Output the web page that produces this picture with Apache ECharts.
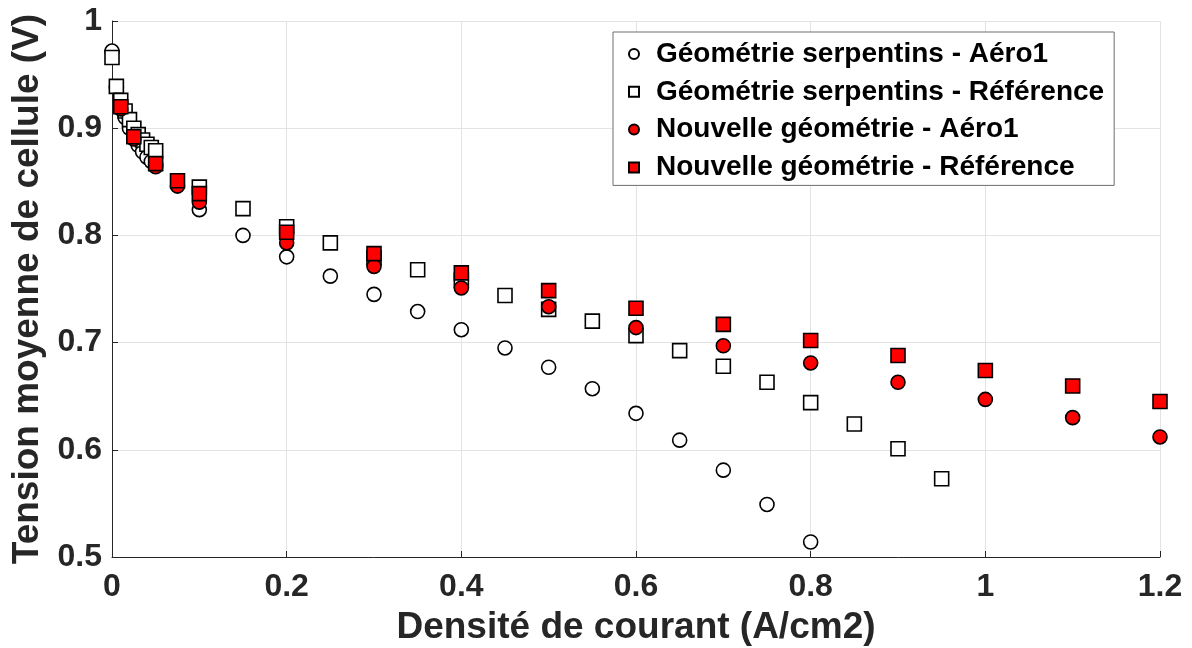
<!DOCTYPE html>
<html>
<head>
<meta charset="utf-8">
<script src="https://cdn.jsdelivr.net/npm/echarts@6/dist/echarts.min.js"></script>
<style>html,body{margin:0;padding:0;background:#fff}#c{width:1192px;height:648px}</style>
</head>
<body>
<div id="c"></div>
<script>
// Géométrie serpentins
const serpX = [0, 0.005, 0.01, 0.015, 0.02, 0.025, 0.03, 0.035, 0.04, 0.045, 0.05, 0.1, 0.15, 0.2, 0.25, 0.3, 0.35, 0.4, 0.45, 0.5, 0.55, 0.6, 0.65, 0.7, 0.75, 0.8, 0.85, 0.9, 0.95];
const serpAero1 = [0.972, 0.938, 0.922, 0.91, 0.9, 0.892, 0.884, 0.878, 0.873, 0.869, 0.866, 0.824, 0.800, 0.780, 0.762, 0.745, 0.729, 0.712, 0.695, 0.677, 0.657, 0.634, 0.609, 0.581, 0.549, 0.514, null, null, null];
const serpRef = [0.966, 0.939, 0.926, 0.916, 0.908, 0.900, 0.894, 0.889, 0.885, 0.882, 0.879, 0.845, 0.825, 0.808, 0.793, 0.779, 0.768, 0.758, 0.744, 0.731, 0.720, 0.7065, 0.6925, 0.678, 0.663, 0.644, 0.624, 0.601, 0.573];
// Nouvelle géométrie
const nouvX = [0.01, 0.025, 0.05, 0.075, 0.1, 0.2, 0.3, 0.4, 0.5, 0.6, 0.7, 0.8, 0.9, 1.0, 1.1, 1.2];
const nouvAero1 = [0.918, 0.890, 0.864, 0.846, 0.831, 0.793, 0.771, 0.751, 0.7335, 0.714, 0.697, 0.681, 0.663, 0.647, 0.630, 0.612];
const nouvRef = [0.920, 0.892, 0.867, 0.851, 0.839, 0.803, 0.783, 0.765, 0.7485, 0.732, 0.717, 0.702, 0.688, 0.674, 0.6595, 0.645];

const names = ['Géométrie serpentins - Aéro1', 'Géométrie serpentins - Référence', 'Nouvelle géométrie - Aéro1', 'Nouvelle géométrie - Référence'];

function pairs(xs, ys) {
  const out = [];
  xs.forEach((x, i) => { if (ys[i] !== null && ys[i] !== undefined) out.push([x, ys[i]]); });
  return out;
}

const chart = echarts.init(document.getElementById('c'));
const font = 'Liberation Sans, Arial, sans-serif';
function mk(name, data, symbol, fill) {
  return {
    name: name, type: 'scatter', data: data, symbol: symbol, symbolSize: 14,
    itemStyle: { color: fill, borderColor: '#000', borderWidth: 1.6, opacity: 1 },
    emphasis: { disabled: true }
  };
}
chart.setOption({
  animation: false,
  backgroundColor: '#fff',
  grid: { left: 112, right: 32, top: 21, bottom: 91, containLabel: false, outerBoundsMode: 'none' },
  legend: {
    orient: 'vertical', left: 613, top: 32, width: 500,
    backgroundColor: '#fff', borderColor: '#6e6e6e', borderWidth: 1,
    padding: [8, 10, 4, 15], itemGap: 9.8, itemWidth: 10, itemHeight: 10,
    textStyle: { fontFamily: font, fontSize: 28, fontWeight: 'bold', color: '#000', padding: [0, 0, 0, 12] },
    data: names.map(n => ({ name: n }))
  },
  xAxis: {
    type: 'value', min: 0, max: 1.2, interval: 0.2,
    name: 'Densité de courant (A/cm2)', nameLocation: 'middle', nameGap: 52,
    nameTextStyle: { fontFamily: font, fontSize: 37, fontWeight: 'bold', color: '#262626' },
    axisLine: { show: true, lineStyle: { color: '#262626', width: 1 } },
    axisTick: { show: true, inside: true, length: 6, lineStyle: { color: '#262626' } },
    axisLabel: { fontFamily: font, fontSize: 32, fontWeight: 'bold', color: '#262626', margin: 14 },
    splitLine: { show: true, lineStyle: { color: '#e3e3e3', width: 1 } }
  },
  yAxis: {
    type: 'value', min: 0.5, max: 1, interval: 0.1,
    name: 'Tension moyenne de cellule (V)', nameLocation: 'middle', nameGap: 66,
    nameTextStyle: { fontFamily: font, fontSize: 37, fontWeight: 'bold', color: '#262626' },
    axisLine: { show: true, lineStyle: { color: '#262626', width: 1 } },
    axisTick: { show: true, inside: true, length: 6, lineStyle: { color: '#262626' } },
    axisLabel: { fontFamily: font, fontSize: 32, fontWeight: 'bold', color: '#262626', margin: 10,
      formatter: v => String(Math.round(v * 10) / 10) },
    splitLine: { show: true, lineStyle: { color: '#e3e3e3', width: 1 } }
  },
  series: [
    mk(names[0], pairs(serpX, serpAero1), 'circle', '#fff'),
    mk(names[1], pairs(serpX, serpRef), 'rect', '#fff'),
    mk(names[2], pairs(nouvX, nouvAero1), 'circle', '#ff0000'),
    mk(names[3], pairs(nouvX, nouvRef), 'rect', '#ff0000')
  ]
});
</script>
</body>
</html>
